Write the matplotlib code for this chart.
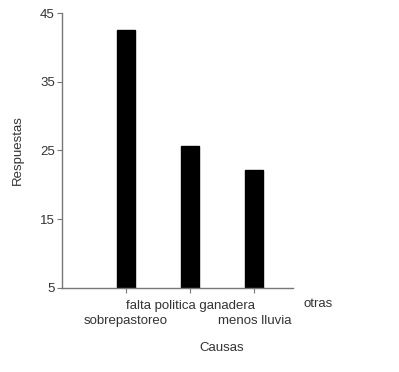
import numpy as np
import matplotlib
matplotlib.use('Agg')
import matplotlib.pyplot as plt
import matplotlib.transforms as mtransforms

causas = ['sobrepastoreo', 'falta politica ganadera', 'menos lluvia', 'otras']
respuestas = [42.5, 25.6, 22.1, 5.0]
y_ticks = [5, 15, 25, 35, 45]

plt.rcParams['font.family'] = ['Liberation Sans', 'DejaVu Sans']
fs = 9.5
txt = '#333333'

fig = plt.figure(figsize=(3.99, 3.72), dpi=100)
ax = fig.add_axes([0.155, 0.226, 0.579, 0.739])

x_pos = np.arange(1, len(causas) + 1)
ax.bar(x_pos, np.array(respuestas) - 5, bottom=5, width=0.28,
       color='black', edgecolor='black')

ax.set_xlim(0, 3.6)
ax.set_ylim(5, 45)
ax.set_yticks(y_ticks)
ax.set_yticklabels([str(t) for t in y_ticks])

# tick labels alternate between two rows: lower row on major ticks,
# upper row on minor ticks
ax.set_xticks(x_pos[0:3:2])
ax.set_xticklabels(causas[0:3:2])
ax.set_xticks(x_pos[1:3:2], minor=True)
ax.set_xticklabels(causas[1:3:2], minor=True)

trans = mtransforms.blended_transform_factory(ax.transData, ax.transAxes)
ax.text(x_pos[3], -0.038, causas[3], transform=trans, ha='center', va='top',
        fontsize=fs, color=txt, clip_on=False)

for s in ['top', 'right']:
    ax.spines[s].set_visible(False)
for s in ['left', 'bottom']:
    ax.spines[s].set_color('#777777')
    ax.spines[s].set_linewidth(1.0)

ax.tick_params(axis='both', which='both', length=3.5, width=0.8,
               color='#777777', labelsize=fs, labelcolor=txt, pad=1.5)
ax.tick_params(axis='x', which='minor', pad=5.5)
ax.tick_params(axis='x', which='major', pad=16)

ax.set_ylabel('Respuestas', fontsize=fs, color=txt)
ax.yaxis.set_label_coords(-0.165, 0.5)
ax.set_xlabel('Causas', fontsize=fs, color=txt)
ax.xaxis.set_label_coords(0.69, -0.195)

fig.savefig('out.png', dpi=100)
